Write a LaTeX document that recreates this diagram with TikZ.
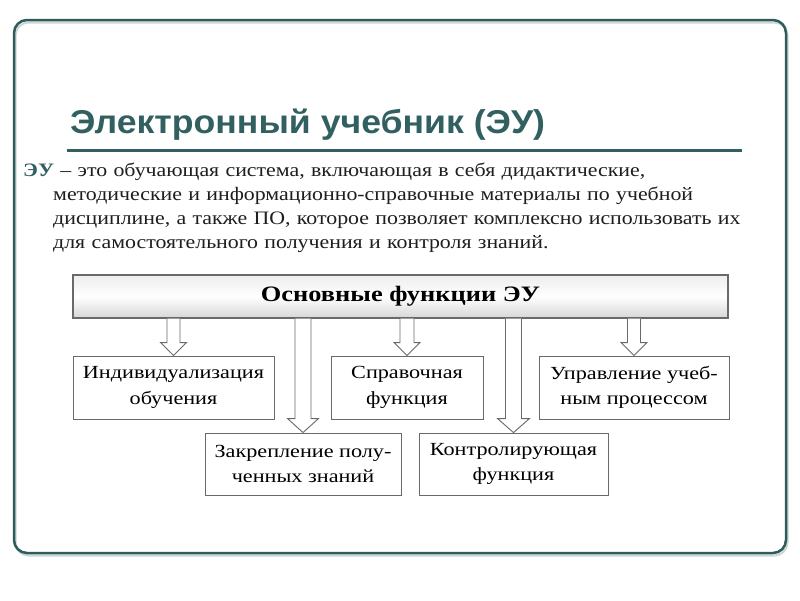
\documentclass[tikz,border=0pt]{standalone}
\usepackage{fontspec}
\setmainfont{Liberation Serif}
\newfontfamily\titlefont[FakeStretch=1.08]{Liberation Sans}
\newfontfamily\bodyfont[FakeStretch=1.15]{Liberation Serif}
\newfontfamily\diagfont[FakeStretch=1.2]{Liberation Serif}
\usetikzlibrary{calc}
\definecolor{frm}{RGB}{46,92,92}
\definecolor{ttl}{RGB}{50,96,96}
\definecolor{bord}{RGB}{105,105,105}
\definecolor{txt}{RGB}{30,30,30}
\newcommand\blockarr[4]{%
  \filldraw[barr] ($(main.south -| #1.north)+(-#2,0pt)$) -- ($(#1.north)+(-#2,#4)$) --
    ($(#1.north)+(-#3,#4)$) -- (#1.north) -- ($(#1.north)+(#3,#4)$) --
    ($(#1.north)+(#2,#4)$) -- ($(main.south -| #1.north)+(#2,0pt)$);}
\begin{document}
\begin{tikzpicture}[x=1pt,y=-1pt,
  fbox/.style={draw=bord, line width=0.9pt, fill=white, align=center, inner sep=0pt,
    font=\diagfont\fontsize{18.5}{25.5}\selectfont, text=black},
  barr/.style={draw=bord, fill=white, line width=0.9pt, line join=miter}]
\useasboundingbox (0,0) rectangle (800,600);
\fill[white] (0,0) rectangle (800,600);
% frame
\draw[frm!25, line width=2pt, rounded corners=13pt] (15.5,22.5) rectangle (787.5,555.5);
\draw[frm, line width=2.5pt, rounded corners=13pt] (14,20) rectangle (786,553);
% title
\node[anchor=base west, inner sep=0pt, text=ttl,
  font=\titlefont\bfseries\fontsize{33}{38}\selectfont] (title) at (70,133) {Электронный учебник (ЭУ)};
\draw[ttl, line width=3pt] (67,150) -- (742,150);
% definition
\node[anchor=north west, inner sep=0pt, text width=770pt, text=txt,
  font=\bodyfont\fontsize{19}{24}\selectfont] (def) at (23,163)
  {\hangindent=30pt\hangafter=1 \textcolor{ttl}{\textbf{ЭУ}} – это обучающая система, включающая в себя дидактические,\hfil\break
   методические и информационно-справочные материалы по учебной\hfil\break
   дисциплине, а также ПО, которое позволяет комплексно использовать их\hfil\break
   для самостоятельного получения и контроля знаний.\hfil\par};
% main box
\node[draw=bord, line width=1.2pt, top color=gray!14, bottom color=gray!32, middle color=white,
  minimum width=655pt, minimum height=43pt, inner sep=0pt,
  font=\diagfont\bfseries\fontsize{22}{26}\selectfont] (main) at (400.5,296.5) {Основные функции ЭУ};
% boxes
\node[fbox, minimum width=201pt, minimum height=63pt] (b1) at (173.5,387.5) {Индивидуализация\\обучения};
\node[fbox, minimum width=152pt, minimum height=63pt] (b2) at (407,387.5) {Справочная\\функция};
\node[fbox, minimum width=190pt, minimum height=63pt] (b3) at (634,387.5) {Управление учеб-\\ным процессом};
\node[fbox, minimum width=196pt, minimum height=62pt] (b4) at (303,464) {Закрепление полу-\\ченных знаний};
\node[fbox, minimum width=189pt, minimum height=62pt] (b5) at (513.5,464) {Контролирующая\\функция};
% arrows
\blockarr{b1}{6.5pt}{13pt}{13pt}
\blockarr{b2}{7pt}{13pt}{13pt}
\blockarr{b3}{6.5pt}{13pt}{13pt}
\blockarr{b4}{8pt}{15.5pt}{14pt}
\blockarr{b5}{8pt}{16pt}{14pt}
\end{tikzpicture}
\end{document}
